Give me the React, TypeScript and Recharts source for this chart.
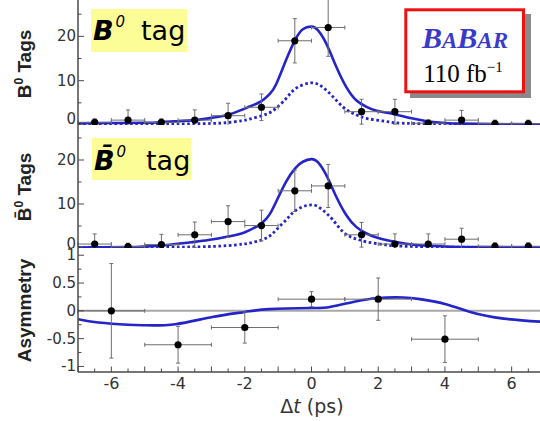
import React from 'react';
import { ComposedChart, Line, Scatter, XAxis, YAxis, ErrorBar, ReferenceLine } from 'recharts';

// ---------------- data ----------------
const binCenters = [-6.5, -5.5, -4.5, -3.5, -2.5, -1.5, -0.5, 0.5, 1.5, 2.5, 3.5, 4.5, 5.5, 6.5];
const binHalfWidth = 0.5;
const b0Counts = [0.6, 1.1, 0.6, 1.1, 2.1, 4.0, 19.0, 22.0, 3.0, 3.0, 0.4, 1.1, 0.3, 0.3];
const b0Errors = [0.8, 2.3, 0.8, 2.3, 2.8, 3.0, 5.0, 6.5, 2.8, 2.8, 0.8, 2.2, 0.8, 0.8];
const b0barCounts = [0.9, 0.3, 0.8, 3.0, 6.0, 5.1, 13.0, 14.1, 3.0, 0.9, 0.9, 2.0, 0.4, 0.4];
const b0barErrors = [2.3, 0.8, 2.3, 2.9, 3.6, 3.5, 4.7, 4.9, 2.8, 2.3, 2.3, 2.5, 0.8, 0.8];

const asymCenters = [-6, -4, -2, 0, 2, 4];
const asymHalfWidth = 1;
const asymValues = [0.0, -0.61, -0.3, 0.21, 0.21, -0.51];
const asymErrors = [0.85, 0.33, 0.28, 0.135, 0.38, 0.42];

// fit curves
const b0FitT = [-7, -6, -5, -4.5, -4, -3.5, -3, -2.5, -2.1, -1.87, -1.5, -1.25, -1.06, -0.76, -0.49, -0.26, 0, 0.19, 0.44, 0.74, 1.04, 1.34, 1.65, 1.95, 2.3, 2.5, 3, 3.5, 4, 4.5, 5.5, 7];
const b0FitV = [0.4, 0.45, 0.5, 0.65, 0.85, 1.1, 1.6, 2.3, 3.4, 4.1, 5.4, 7.0, 9.2, 14.7, 19.2, 21.6, 22.2, 21.4, 18.4, 13.2, 8.6, 5.6, 4.1, 3.2, 2.7, 2.4, 1.5, 0.8, 0.45, 0.3, 0.2, 0.15];
const b0SigT = [-7, -5, -4, -3, -2.5, -2.1, -1.87, -1.37, -1.06, -0.76, -0.46, 0, 0.34, 0.64, 0.94, 1.25, 1.65, 2.15, 2.5, 3, 4, 5, 7];
const b0SigV = [0.1, 0.15, 0.2, 0.35, 0.55, 0.95, 1.3, 2.4, 3.8, 6.0, 8.3, 9.5, 8.5, 6.4, 4.1, 2.6, 1.5, 0.9, 0.5, 0.35, 0.2, 0.15, 0.1];

const b0barFitT = [-7, -5.58, -4.58, -3.6, -3.09, -2.5, -2.1, -1.87, -1.5, -1.25, -1.06, -0.76, -0.49, -0.26, 0, 0.19, 0.44, 0.74, 1.04, 1.34, 1.65, 1.95, 2.3, 2.5, 3, 3.5, 4, 5, 7];
const b0barFitV = [0.1, 0.2, 0.5, 1.3, 1.8, 2.6, 3.3, 4.0, 5.6, 7.7, 10.5, 15.1, 18.1, 19.6, 20.2, 19.5, 16.6, 11.7, 7.5, 4.8, 3.3, 2.4, 1.7, 1.4, 0.8, 0.5, 0.35, 0.2, 0.1];
const b0barSigT = [-7, -4, -3, -2.5, -2.1, -1.87, -1.37, -1.06, -0.76, -0.46, 0, 0.34, 0.64, 0.94, 1.25, 1.65, 2.15, 2.5, 3, 4, 7];
const b0barSigV = [0.1, 0.2, 0.35, 0.55, 0.85, 1.1, 2.2, 4.1, 6.4, 8.6, 9.8, 8.6, 6.4, 3.7, 2.3, 1.4, 0.8, 0.5, 0.35, 0.2, 0.1];

const asymFitT = [-7, -6.39, -5.5, -4.98, -4.08, -2.97, -2, -1.27, 0, 0.55, 1.25, 2, 2.75, 3.25, 4.03, 4.76, 5.76, 7];
const asymFitV = [-0.15, -0.21, -0.25, -0.26, -0.24, -0.11, -0.02, 0.03, 0.05, 0.07, 0.16, 0.23, 0.24, 0.21, 0.12, -0.02, -0.14, -0.2];

// ticks
const xHalfTicks = [-7, -6.5, -6, -5.5, -5, -4.5, -4, -3.5, -3, -2.5, -2, -1.5, -1, -0.5, 0, 0.5, 1, 1.5, 2, 2.5, 3, 3.5, 4, 4.5, 5, 5.5, 6, 6.5, 7];
const xUnitTicks = [-7, -6, -5, -4, -3, -2, -1, 0, 1, 2, 3, 4, 5, 6, 7];
const xTickLabels = [-6, -4, -2, 0, 2, 4, 6];
const countTicks = [0, 5, 10, 15, 20, 25];
const countTickLabels = [0, 10, 20];
const asymTicks = [-1, -0.75, -0.5, -0.25, 0, 0.25, 0.5, 0.75, 1];
const asymTickLabels = [-1, -0.5, 0, 0.5, 1];

// ---------------- build ----------------
const toPoints = (ts: number[], vs: number[], es: number[], hw: number) =>
  ts.map((t, i) => ({ t, v: vs[i], ey: es[i], ex: hw }));
const toCurve = (ts: number[], vs: number[]) => ts.map((t, i) => ({ t, v: vs[i] }));

const b0Points = toPoints(binCenters, b0Counts, b0Errors, binHalfWidth);
const b0barPoints = toPoints(binCenters, b0barCounts, b0barErrors, binHalfWidth);
const asymPoints = toPoints(asymCenters, asymValues, asymErrors, asymHalfWidth);
const b0Fit = toCurve(b0FitT, b0FitV);
const b0Sig = toCurve(b0SigT, b0SigV);
const b0barFit = toCurve(b0barFitT, b0barFitV);
const b0barSig = toCurve(b0barSigT, b0barSigV);
const asymFit = toCurve(asymFitT, asymFitV);

// ---------------- style ----------------
const AXIS = '#4a4a4a';
const TXT = '#333';
const BLUE = '#2424c8';
const ERR = '#6e6e6e';
const SANS = "'Liberation Sans', Arial, Helvetica, sans-serif";
const DJ = "'DejaVu Sans', sans-serif";
const W = 545;
const YW = 78;
const XDOMAIN: [number, number] = [-7, 7];
const axisLine = { stroke: AXIS, strokeWidth: 1.5 };

const xBottomTick = (labels: number[]) => (p: any) => {
  const v = p.payload.value;
  const major = Number.isInteger(v);
  return (
    <g>
      <line x1={p.x} y1={p.y} x2={p.x} y2={p.y - (major ? 5.5 : 3.5)} stroke={AXIS} strokeWidth={1} />
      {labels.includes(v) ? (
        <text x={p.x} y={p.y + 16.5} textAnchor="middle" fontFamily={DJ} fontSize={16} fill={TXT}>
          {String(v)}
        </text>
      ) : null}
    </g>
  );
};

const xTopTick = (p: any) => (
  <line x1={p.x} y1={p.y} x2={p.x} y2={p.y + 5} stroke={AXIS} strokeWidth={1} />
);

const yTick = (labels: number[], shift: Record<string, number>) => (p: any) => {
  const v = p.payload.value;
  const major = labels.includes(v);
  return (
    <g>
      <line x1={p.x} y1={p.y} x2={p.x + (major ? 6 : 3.5)} y2={p.y} stroke={AXIS} strokeWidth={1} />
      {major ? (
        <text x={p.x - 2} y={p.y + (shift[String(v)] ?? 0)} textAnchor="end" dominantBaseline="central" fontFamily={DJ} fontSize={15} fill={TXT}>
          {String(v)}
        </text>
      ) : null}
    </g>
  );
};

const dotShape = (p: any) => <circle cx={p.cx} cy={p.cy} r={3.6} fill="#000" />;

function CountPanel({ height, top, ymax, points, fit, sig, zeroShift }: any) {
  return (
    <div style={{ position: 'absolute', left: 0, top }}>
      <ComposedChart width={W} height={height} margin={{ top: 0, right: 0, bottom: 0, left: 0 }}>
        <XAxis xAxisId="top" orientation="top" type="number" dataKey="t" domain={XDOMAIN} allowDataOverflow ticks={xUnitTicks} interval={0} height={0} tickSize={0} tickMargin={0} tickLine={false} tick={xTopTick} axisLine={axisLine} />
        <XAxis type="number" dataKey="t" domain={XDOMAIN} allowDataOverflow ticks={xUnitTicks} interval={0} height={0} tickSize={0} tickMargin={0} tickLine={false} tick={xBottomTick([])} axisLine={axisLine} />
        <YAxis type="number" domain={[0, ymax]} allowDataOverflow ticks={countTicks} interval={0} width={YW} tickSize={0} tickMargin={0} tickLine={false} tick={yTick(countTickLabels, { '0': zeroShift })} axisLine={axisLine} />
        <Line data={sig} dataKey="v" type="natural" stroke={BLUE} strokeWidth={2.8} strokeDasharray="2.6 2.6" dot={false} isAnimationActive={false} />
        <Line data={fit} dataKey="v" type="natural" stroke={BLUE} strokeWidth={2.6} dot={false} isAnimationActive={false} />
        <Scatter data={points} dataKey="v" shape={dotShape} isAnimationActive={false}>
          <ErrorBar dataKey="ex" direction="x" width={2} stroke={ERR} strokeWidth={1} />
          <ErrorBar dataKey="ey" direction="y" width={2} stroke={ERR} strokeWidth={1} />
        </Scatter>
      </ComposedChart>
    </div>
  );
}

export default function App() {
  return (
    <div style={{ position: 'absolute', left: 0, top: 0, width: 540, height: 421, overflow: 'hidden', background: '#fff' }}>
      <CountPanel height={125} top={0} ymax={28.2} points={b0Points} fit={b0Fit} sig={b0Sig} zeroShift={-6} />
      <CountPanel height={123} top={125} ymax={27.95} points={b0barPoints} fit={b0barFit} sig={b0barSig} zeroShift={-4} />
      <div style={{ position: 'absolute', left: 0, top: 248 }}>
        <ComposedChart width={W} height={173} margin={{ top: 0, right: 0, bottom: 0, left: 0 }}>
          <XAxis xAxisId="top" orientation="top" type="number" dataKey="t" domain={XDOMAIN} allowDataOverflow ticks={xUnitTicks} interval={0} height={0} tickSize={0} tickMargin={0} tickLine={false} tick={xTopTick} axisLine={axisLine} />
          <XAxis type="number" dataKey="t" domain={XDOMAIN} allowDataOverflow ticks={xHalfTicks} interval={0} height={49} tickSize={0} tickMargin={0} tickLine={false} tick={xBottomTick(xTickLabels)} axisLine={axisLine} />
          <YAxis type="number" domain={[-1.1, 1.13]} allowDataOverflow ticks={asymTicks} interval={0} width={YW} tickSize={0} tickMargin={0} tickLine={false} tick={yTick(asymTickLabels, {})} axisLine={axisLine} />
          <ReferenceLine y={0} stroke="#a8a8a8" strokeWidth={2} />
          <Line data={asymFit} dataKey="v" type="natural" stroke={BLUE} strokeWidth={2.6} dot={false} isAnimationActive={false} />
          <Scatter data={asymPoints} dataKey="v" shape={dotShape} isAnimationActive={false}>
            <ErrorBar dataKey="ex" direction="x" width={2} stroke={ERR} strokeWidth={1} />
            <ErrorBar dataKey="ey" direction="y" width={2} stroke={ERR} strokeWidth={1} />
          </Scatter>
        </ComposedChart>
      </div>
      <svg width={540} height={421} style={{ position: 'absolute', left: 0, top: 0, pointerEvents: 'none' }}>
        {/* axis titles */}
        <text transform="translate(30.5,64) rotate(-90)" textAnchor="middle" fontFamily={SANS} fontWeight="bold" fontSize={19} fill="#222">
          B<tspan fontSize={12} dy={-8}>0</tspan><tspan dy={8}> Tags</tspan>
        </text>
        <text transform="translate(30.5,187) rotate(-90)" textAnchor="middle" fontFamily={SANS} fontWeight="bold" fontSize={19} fill="#222">
          {'B\u0304'}<tspan fontSize={12} dy={-8}>0</tspan><tspan dy={8}> Tags</tspan>
        </text>
        <text transform="translate(30.5,310.5) rotate(-90)" textAnchor="middle" fontFamily={SANS} fontWeight="bold" fontSize={19} fill="#222">
          Asymmetry
        </text>
        <text x={312} y={413} textAnchor="middle" fontFamily={DJ} fontSize={19} fill={TXT}>
          Δ<tspan fontStyle="italic">t</tspan> (ps)
        </text>

        {/* tag labels */}
        <rect x={91} y={9} width={96} height={43} fill="#fdfd98" />
        <text x={93} y={40} fontFamily={DJ} fill="#000">
          <tspan fontWeight="bold" fontStyle="italic" fontSize={27}>B</tspan>
          <tspan fontStyle="italic" fontSize={15} dx={2} dy={-13}>0</tspan>
          <tspan x={141} y={40} fontSize={27}>tag</tspan>
        </text>
        <rect x={92} y={138} width={99} height={42} fill="#fdfd98" />
        <text x={94} y={170} fontFamily={DJ} fill="#000">
          <tspan fontWeight="bold" fontStyle="italic" fontSize={27}>{'B\u0304'}</tspan>
          <tspan fontStyle="italic" fontSize={15} dx={2} dy={-13}>0</tspan>
          <tspan x={146} y={170} fontSize={27}>tag</tspan>
        </text>

        {/* BABAR box */}
        <rect x={410} y={14} width={121} height={84} fill="#8a8a8a" />
        <rect x={405.8} y={9.8} width={117.7} height={82} fill="#fff" stroke="#ee1111" strokeWidth={3} />
        <text x={465} y={48} textAnchor="middle" fontFamily="'Liberation Serif', 'Times New Roman', serif" fontStyle="italic" fontWeight="bold" fill="#3a3ac8">
          <tspan fontSize={30}>B</tspan><tspan fontSize={23}>A</tspan><tspan fontSize={30}>B</tspan><tspan fontSize={23}>AR</tspan>
        </text>
        <text x={463} y={82} textAnchor="middle" fontFamily="'Liberation Serif', 'Times New Roman', serif" fontSize={25} fill="#000">
          110 fb<tspan fontSize={15} dy={-10}>{'\u22121'}</tspan>
        </text>
      </svg>
    </div>
  );
}
